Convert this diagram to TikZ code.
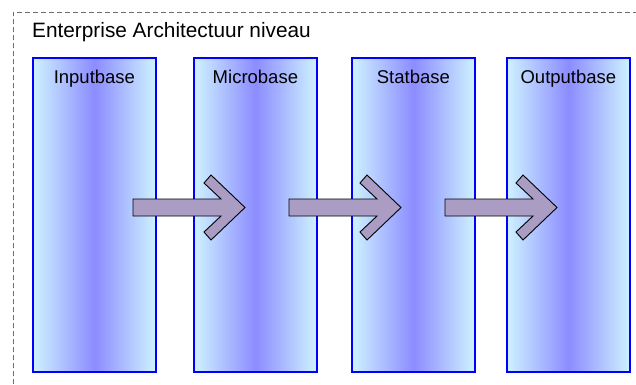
\documentclass[tikz,border=0pt]{standalone}
\usepackage{fontspec}
\setmainfont{Liberation Sans}
\definecolor{edgec}{RGB}{206,242,255}
\definecolor{midc}{RGB}{140,140,255}
\definecolor{boxline}{RGB}{0,0,255}
\definecolor{arrowfill}{RGB}{170,156,194}
\definecolor{framec}{RGB}{110,110,110}
\tikzset{
  layerbox/.style={draw=boxline, line width=1.8pt, left color=edgec, right color=edgec, middle color=midc,
    anchor=north west, minimum width=123pt, minimum height=314pt, inner sep=0pt},
  layerlabel/.style={font=\fontsize{18.5pt}{20pt}\selectfont, anchor=base},
  blockarrow/.style={fill=arrowfill, draw=black, line width=0.9pt, line join=miter},
}
\newcommand{\chevarrow}[2]{%
  \draw[blockarrow] (#1,199) -- ++(88,0) -- ++(-17,-16) -- ++(7,-8) -- ++(34,32.5)
    -- ++(-34,32.5) -- ++(-7,-8) -- ++(17,-16) -- (#1,216) -- cycle;
}
\begin{document}
\begin{tikzpicture}[x=1pt,y=-1pt]
\useasboundingbox (0,0) rectangle (636,384);
\draw[framec, dash pattern=on 5pt off 3pt, line width=0.9pt] (13,400) -- (13,12) -- (650,12);
\node[anchor=base west, font=\fontsize{20.8pt}{22pt}\selectfont, inner sep=0pt] (title) at (32,37) {Enterprise Architectuur niveau};
\node[layerbox] (inp) at (32,57) {};
\node[layerbox] (mic) at (193,57) {};
\node[layerbox] (sta) at (351,57) {};
\node[layerbox] (out) at (506,57) {};
\node[layerlabel] (linp) at ([yshift=-26pt]inp.north) {Inputbase};
\node[layerlabel] (lmic) at ([yshift=-26pt]mic.north) {Microbase};
\node[layerlabel] (lsta) at ([yshift=-26pt]sta.north) {Statbase};
\node[layerlabel] (lout) at ([yshift=-26pt]out.north) {Outputbase};
\chevarrow{133}{a}
\chevarrow{289}{b}
\chevarrow{445}{c}
\end{tikzpicture}
\end{document}
